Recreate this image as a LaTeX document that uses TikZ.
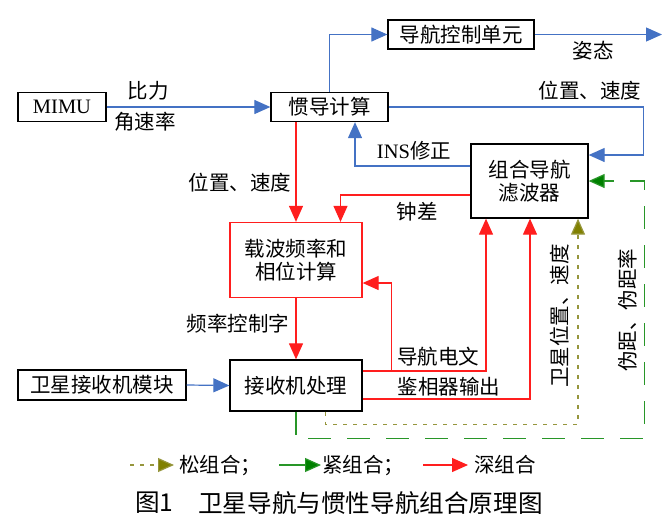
\documentclass[tikz,border=0pt]{standalone}
\usepackage{fontspec}
\setmainfont{Noto Sans CJK SC}
\newfontfamily\lat{Liberation Serif}
\usetikzlibrary{arrows.meta,calc}
\definecolor{blueC}{RGB}{68,114,196}
\definecolor{redC}{RGB}{255,30,30}
\definecolor{greenC}{RGB}{0,128,0}
\definecolor{greenL}{RGB}{40,150,40}
\definecolor{oliveC}{RGB}{128,128,0}
\definecolor{oliveL}{RGB}{150,150,60}
\newcommand\fsz{\fontsize{20.5pt}{23.5pt}\selectfont}
\newcommand\fcap{\fontsize{24.6pt}{27pt}\selectfont}
\begin{document}
\begin{tikzpicture}[x=1pt,y=-1pt,
  box/.style={draw=black,line width=1.3pt,fill=white,inner sep=0pt,font=\fsz,align=center},
  rbox/.style={box,draw=redC},
  lbl/.style={font=\fsz,inner sep=0pt},
  tip/.style={-{Triangle[length=16pt,width=14pt]}},
  bl/.style={draw=blueC,line width=1.2pt,tip},
  rd/.style={draw=redC,line width=1.2pt,tip},
  gr/.style={draw=greenL,line width=1.2pt,dash pattern=on 23pt off 16pt,-{Triangle[length=16pt,width=14pt,fill=greenC]},color=greenL},
  ol/.style={draw=oliveL,line width=1.2pt,dash pattern=on 4pt off 6pt,-{Triangle[length=16pt,width=14pt,fill=oliveC]},color=oliveL},
]
\useasboundingbox (0,0) rectangle (671,517);
% boxes
\node[box,minimum width=146pt,minimum height=29pt] (nav) at (461,34.5) {导航控制单元};
\node[box,minimum width=88pt,minimum height=29pt] (mimu) at (62,107) {\lat MIMU};
\node[box,minimum width=117pt,minimum height=29pt] (ins) at (329.5,107) {惯导计算};
\node[box,minimum width=117pt,minimum height=74pt] (filt) at (529.5,181) {组合导航\\滤波器};
\node[rbox,minimum width=132pt,minimum height=75pt] (carr) at (296,260) {载波频率和\\相位计算};
\node[box,minimum width=132pt,minimum height=51pt] (recv) at (296,385.5) {接收机处理};
\node[box,minimum width=168pt,minimum height=30pt] (sat) at (102,385) {卫星接收机模块};
% free ends
\coordinate (attout) at (662,34.5);
% blue connectors
\draw[bl] (ins.north) |- (nav.west);
\draw[bl] (nav.east) -- (attout);
\draw[bl] (mimu.east) -- (ins.west);
\draw[bl] (ins.east) -| ($(filt.east)+(55,-26)$) -- ($(filt.east)+(0,-26)$);
\draw[bl] ($(filt.west)+(0,-15)$) -| ($(ins.south)+(25.5,0)$);
\draw[bl] (sat.east) -- (recv.west);
% red connectors
\draw[rd] (ins.south -| carr.north) -- (carr.north);
\draw[rd] ($(filt.west)+(0,14)$) -| ($(carr.north)+(44.5,0)$);
\draw[rd] (carr.south) -- (recv.north);
\draw[rd] ($(recv.east)+(0,-14.5)$) -| ($(filt.south)+(-43.5,0)$);
\draw[rd] ($(recv.east)+(29,-14.5)$) |- ($(carr.east)+(0,23)$);
\draw[rd] ($(recv.east)+(0,13.5)$) -| ($(filt.south)+(0.5,0)$);
% olive dotted
\draw[ol] ($(recv.south)+(29.5,0)$) -- ++(0,12.5) -| ($(filt.south)+(48.5,0)$);
% green dashed
\draw[gr] ($(recv.south)+(0,0)$) -- ++(0,27) -| ($(filt.east)+(55.5,0)$) -- (filt.east);
% labels
\node[lbl] at (148,91) {比力};
\node[lbl] at (145,122) {角速率};
\node[lbl] at (593,51) {姿态};
\node[lbl] at (590,91) {位置、速度};
\node[lbl] at (414,151) {{\lat INS}修正};
\node[lbl] at (240,183) {位置、速度};
\node[lbl] at (417,212) {钟差};
\node[lbl] at (238,324) {频率控制字};
\node[lbl] at (438,357) {导航电文};
\node[lbl] at (449,387) {鉴相器输出};
\node[lbl,rotate=90] at (560,316) {卫星位置、速度};
\node[lbl,rotate=90] at (628,310) {伪距、伪距率};
% legend
\coordinate (l1a) at (130,465); \coordinate (l1b) at (174,465);
\coordinate (l2a) at (279,465); \coordinate (l2b) at (321,465);
\coordinate (l3a) at (423,465); \coordinate (l3b) at (468,465);
\draw[ol] (l1a) -- (l1b);
\draw[draw=greenL,line width=1.2pt,-{Triangle[length=16pt,width=14pt,fill=greenC]},color=greenL] (l2a) -- (l2b);
\draw[rd] (l3a) -- (l3b);
\node[lbl,anchor=west] at (179,465) {松组合；};
\node[lbl,anchor=west] at (322,465) {紧组合；};
\node[lbl,anchor=west] at (474,465) {深组合};
% caption
\node[font=\fcap,inner sep=0pt,anchor=west] (capn) at (135,503) {图1};
\node[font=\fcap,inner sep=0pt,anchor=west] (capt) at (198,503) {卫星导航与惯性导航组合原理图};
\end{tikzpicture}
\end{document}
